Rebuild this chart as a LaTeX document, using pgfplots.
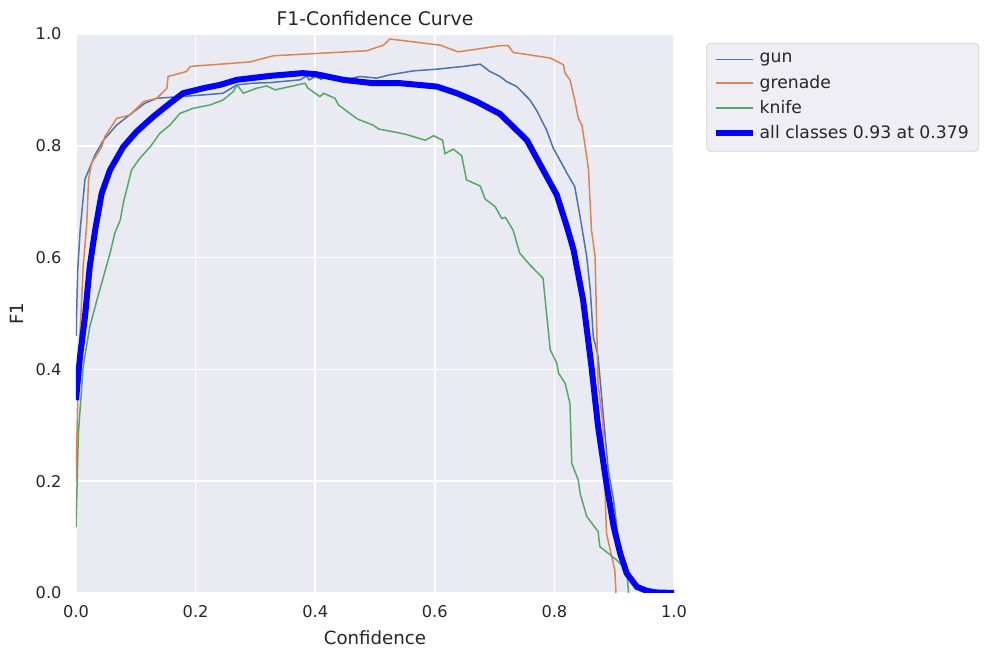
\documentclass[border=0pt]{standalone}
\usepackage{pgfplots}
\pgfplotsset{compat=1.18}
\usepackage{fontspec}
\setmainfont{DejaVu Sans}
\definecolor{bgc}{HTML}{EAEAF2}
\definecolor{lgbg}{HTML}{EEEEF4}
\definecolor{txt}{HTML}{262626}
\definecolor{cgun}{HTML}{4C72B0}
\definecolor{cgren}{HTML}{DD8452}
\definecolor{cknife}{HTML}{55A868}
\begin{document}
\fontsize{9.2}{11}\selectfont
\begin{tikzpicture}
\begin{axis}[
  scale only axis, width=299pt, height=279.5pt,
  xmin=0, xmax=1, ymin=0, ymax=1,
  axis background/.style={fill=bgc},
  axis line style={draw=none},
  tick style={draw=none},
  grid=major, grid style={white, line width=0.8pt},
  xtick={0,0.2,0.4,0.6,0.8,1.0}, ytick={0,0.2,0.4,0.6,0.8,1.0},
  /pgf/number format/fixed, /pgf/number format/fixed zerofill, /pgf/number format/precision=1,
  /pgf/number format/assume math mode=true,
  ticklabel style={font=\fontsize{8.1}{10}\selectfont, text=txt},
  xticklabel style={yshift=-3pt},
  yticklabel style={xshift=-4pt},
  xlabel={Confidence}, ylabel={F1},
  label style={font=\fontsize{9.1}{11}\selectfont, text=txt},
  title={F1-Confidence Curve},
  title style={font=\fontsize{9.4}{11}\selectfont, text=txt, yshift=-5pt},
  legend style={at={(1.054,0.984)}, anchor=north west, fill=lgbg, draw=black!18, rounded corners=2pt,
    font=\fontsize{8.6}{10}\selectfont, text=txt, row sep=0pt, inner xsep=3pt, inner ysep=2.6pt,
    nodes={inner ysep=2.35pt}},
  legend cell align=left,
  legend image code/.code={\draw[#1] (0pt,0pt) -- (18.5pt,0pt);},
  clip=true,
]
\addplot[cgun, line width=0.75pt] table {
0 0.46
0.003 0.58
0.007 0.65
0.015 0.74
0.032 0.784
0.046 0.81
0.068 0.837
0.093 0.858
0.115 0.876
0.135 0.885
0.174 0.888
0.213 0.891
0.246 0.894
0.269 0.909
0.296 0.912
0.324 0.913
0.375 0.918
0.385 0.925
0.39 0.918
0.40 0.924
0.41 0.919
0.413 0.921
0.458 0.920
0.475 0.924
0.503 0.921
0.525 0.927
0.564 0.934
0.603 0.937
0.648 0.942
0.676 0.946
0.692 0.933
0.709 0.924
0.72 0.915
0.737 0.906
0.759 0.882
0.770 0.864
0.787 0.828
0.798 0.796
0.815 0.763
0.821 0.751
0.834 0.727
0.843 0.673
0.854 0.602
0.860 0.542
0.865 0.459
0.873 0.423
0.882 0.315
0.890 0.22
0.899 0.166
0.907 0.095
0.915 0.059
0.932 0.017
0.948 0.005
0.96 0.001
1.0 0
};
\addlegendentry{gun}
\addplot[cgren, line width=0.75pt] table {
0 0.2
0.004 0.405
0.0095 0.524
0.012 0.584
0.018 0.66
0.021 0.739
0.026 0.769
0.035 0.784
0.043 0.798
0.048 0.816
0.068 0.849
0.09 0.855
0.113 0.879
0.135 0.885
0.152 0.903
0.154 0.924
0.185 0.933
0.191 0.942
0.291 0.950
0.330 0.961
0.486 0.970
0.514 0.980
0.525 0.991
0.609 0.980
0.639 0.968
0.709 0.979
0.723 0.979
0.731 0.967
0.793 0.957
0.815 0.945
0.818 0.930
0.826 0.918
0.834 0.882
0.840 0.849
0.846 0.837
0.854 0.781
0.857 0.757
0.862 0.649
0.865 0.626
0.868 0.602
0.873 0.375
0.881 0.304
0.887 0.107
0.901 0.041
0.903 0.0
};
\addlegendentry{grenade}
\addplot[cknife, line width=0.75pt] table {
0 0.118
0.004 0.286
0.012 0.405
0.023 0.476
0.035 0.524
0.046 0.566
0.057 0.608
0.065 0.644
0.074 0.667
0.079 0.697
0.093 0.757
0.107 0.778
0.124 0.798
0.140 0.822
0.157 0.837
0.174 0.858
0.196 0.867
0.224 0.873
0.246 0.882
0.263 0.897
0.269 0.909
0.280 0.894
0.302 0.903
0.319 0.907
0.333 0.900
0.383 0.912
0.388 0.903
0.408 0.888
0.414 0.894
0.433 0.885
0.439 0.873
0.469 0.849
0.475 0.846
0.497 0.837
0.506 0.830
0.550 0.821
0.584 0.810
0.598 0.818
0.613 0.810
0.617 0.786
0.631 0.794
0.645 0.782
0.653 0.739
0.676 0.728
0.684 0.705
0.701 0.691
0.712 0.670
0.718 0.672
0.731 0.649
0.742 0.608
0.759 0.587
0.781 0.563
0.793 0.435
0.804 0.411
0.807 0.393
0.818 0.375
0.826 0.339
0.829 0.232
0.840 0.202
0.843 0.178
0.854 0.137
0.873 0.110
0.876 0.083
0.904 0.059
0.921 0.041
0.924 0.0
};
\addlegendentry{knife}
\addplot[blue, line width=3pt] table {
0 0.345
0.0067 0.423
0.015 0.494
0.023 0.584
0.032 0.649
0.043 0.715
0.057 0.757
0.079 0.798
0.101 0.825
0.129 0.852
0.157 0.876
0.179 0.894
0.213 0.903
0.241 0.909
0.269 0.918
0.324 0.925
0.379 0.930
0.402 0.928
0.447 0.918
0.497 0.912
0.542 0.912
0.603 0.906
0.637 0.894
0.670 0.879
0.709 0.857
0.754 0.810
0.781 0.757
0.804 0.712
0.821 0.655
0.832 0.614
0.848 0.524
0.862 0.405
0.873 0.298
0.887 0.196
0.899 0.119
0.910 0.071
0.921 0.035
0.938 0.011
0.954 0.004
0.97 0.001
1.0 0.0
};
\addlegendentry{all classes 0.93 at 0.379}
\end{axis}
\path (-38pt,-29.5pt) rectangle (455.5pt,296.5pt);
\end{tikzpicture}
\end{document}
